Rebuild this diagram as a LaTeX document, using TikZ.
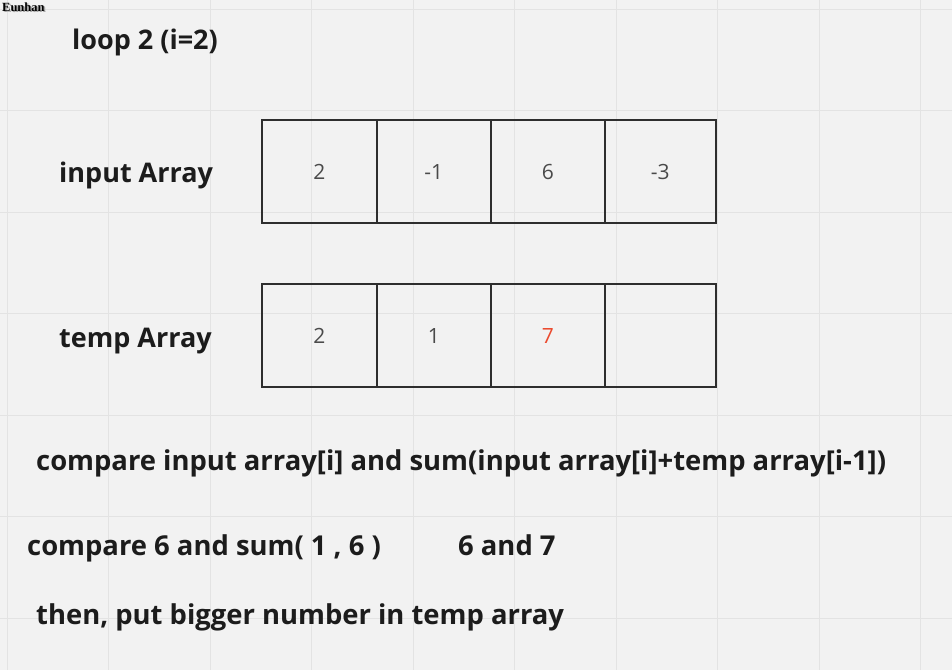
\documentclass[tikz,border=0pt]{standalone}
\usepackage{fontspec}
\setmainfont{Open Sans}
\newfontfamily\serifname{Liberation Serif}
\definecolor{bg}{HTML}{F2F2F2}
\definecolor{gridc}{HTML}{E3E3E3}
\definecolor{boxc}{HTML}{2E2E2E}
\definecolor{txt}{HTML}{1C1C1C}
\definecolor{numc}{HTML}{4A4A4A}
\definecolor{redc}{HTML}{EB4A2E}
\tikzset{
  cell/.style={draw=boxc, line width=2pt, minimum height=103pt, inner sep=0pt, font=\fontsize{21}{24}\selectfont, text=numc},
  label/.style={anchor=base west, inner sep=0pt, font=\bfseries\fontsize{27}{32}\selectfont, text=txt},
  biglabel/.style={label, font=\bfseries\fontsize{27.4}{32}\selectfont},
  tagtext/.style={anchor=north west, inner sep=0pt, font=\serifname\bfseries\fontsize{12.5}{13}\selectfont},
}
\begin{document}
\begin{tikzpicture}[x=1pt,y=-1pt]
\useasboundingbox (0,0) rectangle (952,670);
\fill[bg] (0,0) rectangle (952,670);
\foreach \k in {0,...,9} \draw[gridc, line width=1pt] ({7+101.5*\k},0) -- ({7+101.5*\k},670);
\foreach \k in {0,...,6} \draw[gridc, line width=1pt] (0,{9.2+101.5*\k}) -- (952,{9.2+101.5*\k});
% Eunhan tag
\node[tagtext, text=gray!70] (tagshadow) at (3.5,4) {Eunhan};
\node[tagtext, text=black] (tag) at (2,2.5) {Eunhan};
% labels
\node[label] (loop) at (72,49.5) {loop 2 (i=2)};
\node[label] (inlab) at (59,182) {input Array};
\node[label] (tmplab) at (59,347) {temp Array};
% input array
\node[cell, minimum width=114.5pt] (a1) at (319.25,171.5) {2};
\node[cell, minimum width=114.5pt] (a2) at (433.75,171.5) {-1};
\node[cell, minimum width=113.5pt] (a3) at (547.75,171.5) {6};
\node[cell, minimum width=111.5pt] (a4) at (660.25,171.5) {-3};
% temp array
\node[cell, minimum width=114.5pt] (t1) at (319.25,335.5) {2};
\node[cell, minimum width=114.5pt] (t2) at (433.75,335.5) {1};
\node[cell, minimum width=113.5pt, text=redc] (t3) at (547.75,335.5) {7};
\node[cell, minimum width=111.5pt] (t4) at (660.25,335.5) {};
% explanation
\node[biglabel] (l1) at (36,470) {compare input array[i] and sum(input array[i]+temp array[i-1])};
\node[biglabel] (l2) at (27,555.5) {compare 6 and sum( 1 , 6 )};
\node[biglabel] (l3) at (458,555.5) {6 and 7};
\node[biglabel] (l4) at (36,624) {then, put bigger number in temp array};
\end{tikzpicture}
\end{document}
